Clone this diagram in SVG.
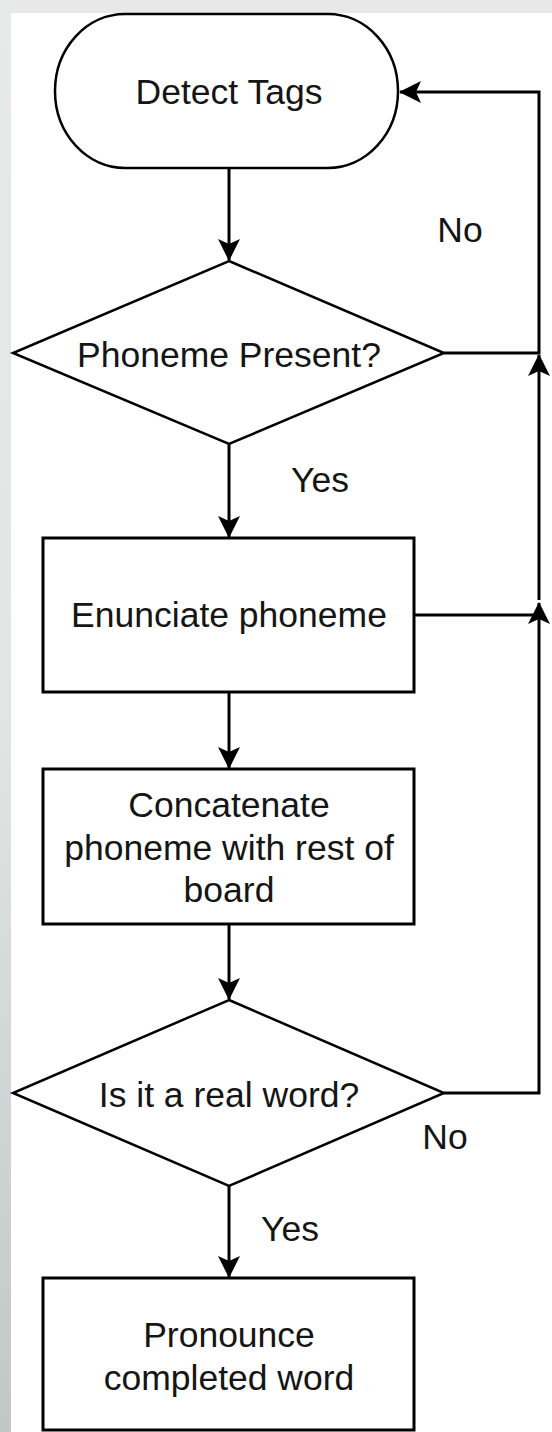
<svg xmlns="http://www.w3.org/2000/svg" width="552" height="1432" viewBox="0 0 552 1432">
<defs>
<linearGradient id="side" x1="0" y1="0" x2="0" y2="1">
<stop offset="0" stop-color="#e8e9e9"/>
<stop offset="0.5" stop-color="#e3e5e5"/>
<stop offset="1" stop-color="#c2c6c6"/>
</linearGradient>
<marker id="arr" markerUnits="userSpaceOnUse" markerWidth="24" markerHeight="24" refX="21" refY="11" orient="auto">
<path d="M0,0 L22,11 L0,22 L5,11 Z" fill="#000"/>
</marker>
<style>
.shape{fill:#fff;stroke:#000;stroke-width:2.5}
.box{stroke-width:3}
.edge{fill:none;stroke:#000;stroke-width:3}
.t{font-size:35.5px;fill:#151515;text-anchor:middle}
</style>
</defs>
<rect x="0" y="0" width="552" height="1432" fill="#e7e8e8"/>
<rect x="0" y="0" width="11" height="1432" fill="url(#side)"/>
<rect x="11" y="13" width="541" height="1419" fill="#fff"/>

<g id="connectors" font-family="Liberation Sans">
<path class="edge" d="M229,168 L229,260" marker-end="url(#arr)"/>
<path class="edge" d="M229,444 L229,537" marker-end="url(#arr)"/>
<path class="edge" d="M229,692 L229,768" marker-end="url(#arr)"/>
<path class="edge" d="M229,924 L229,999" marker-end="url(#arr)"/>
<path class="edge" d="M229,1186 L229,1277" marker-end="url(#arr)"/>
<path class="edge" d="M444,353 L539,353 L539,92 L400,92" marker-end="url(#arr)"/>
<path class="edge" d="M539,600 L539,355" marker-end="url(#arr)"/>
<path class="edge" d="M414,615 L539,615"/>
<path class="edge" d="M444,1093 L539,1093 L539,603" marker-end="url(#arr)"/>
<text class="t" x="460" y="242">No</text>
<text class="t" x="320" y="492">Yes</text>
<text class="t" x="445" y="1149">No</text>
<text class="t" x="290" y="1241">Yes</text>
</g>

<g id="detect-tags" font-family="Liberation Sans">
<rect class="shape" x="55" y="14" width="343" height="154" rx="70" ry="77"/>
<text class="t" x="229" y="104">Detect Tags</text>
</g>

<g id="phoneme-present" font-family="Liberation Sans">
<polygon class="shape" points="229,261 444,353 229,444 13,353"/>
<text class="t" x="229" y="367">Phoneme Present?</text>
</g>

<g id="enunciate" font-family="Liberation Sans">
<rect class="shape box" x="43" y="538" width="371" height="154"/>
<text class="t" x="229" y="627">Enunciate phoneme</text>
</g>

<g id="concatenate" font-family="Liberation Sans">
<rect class="shape box" x="43" y="769" width="371" height="155"/>
<text class="t" x="229" y="817">Concatenate</text>
<text class="t" x="229" y="860">phoneme with rest of</text>
<text class="t" x="229" y="902">board</text>
</g>

<g id="real-word" font-family="Liberation Sans">
<polygon class="shape" points="229,1000 444,1093 229,1186 13,1093"/>
<text class="t" x="229" y="1107">Is it a real word?</text>
</g>

<g id="pronounce" font-family="Liberation Sans">
<rect class="shape box" x="43" y="1278" width="371" height="152"/>
<text class="t" x="229" y="1347">Pronounce</text>
<text class="t" x="229" y="1390">completed word</text>
</g>
</svg>
